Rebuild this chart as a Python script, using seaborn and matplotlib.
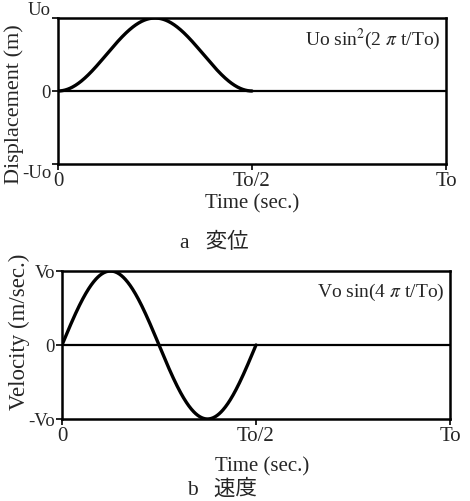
import numpy as np
import pandas as pd
import matplotlib
matplotlib.use("Agg")
import matplotlib.pyplot as plt
import seaborn as sns

# Pulse parameters (normalised): period, amplitudes
T0 = 1.0
U0 = 1.0
V0 = 1.0

x_ticks = [0.0, T0 / 2, T0]
x_ticklabels = ["0", "To/2", "To"]
disp_ticklabels = ["-Uo", "0", "Uo"]
vel_ticklabels = ["-Vo", "0", "Vo"]

# Pulse shapes over the first half period
t = np.linspace(0.0, T0 / 2, 400)
displacement = U0 * np.sin(2 * np.pi * t / T0) ** 2
velocity = V0 * np.sin(4 * np.pi * t / T0)
df = pd.DataFrame({"t": t, "u": displacement, "v": velocity})

sns.set_theme(style="white")
plt.rcParams["font.family"] = ["Liberation Serif", "Noto Sans CJK JP"]
plt.rcParams["mathtext.fontset"] = "stix"

W, H = 470, 502
fig = plt.figure(figsize=(W / 100, H / 100), dpi=100)


def box(left, top, right, bottom):
    return [left / W, 1 - bottom / H, (right - left) / W, (bottom - top) / H]


ax1 = fig.add_axes(box(58, 19, 446, 165))
ax2 = fig.add_axes(box(62, 272, 450, 420))


def style(ax, amp, yticklabels):
    ax.set_xlim(0, T0)
    ax.set_ylim(-amp, amp)
    ax.axhline(0, color="black", lw=1.6)
    for s in ax.spines.values():
        s.set_color("black")
        s.set_linewidth(1.8)
    ax.set_xticks(x_ticks)
    ax.set_xticklabels(x_ticklabels, fontsize=15)
    ax.set_yticks([-amp, 0, amp])
    ax.set_yticklabels(yticklabels, fontsize=13.5)
    ax.tick_params(axis="both", direction="out", length=4, width=1.2,
                   color="black", pad=1, bottom=True, left=True)
    ax.set_xlabel("")
    ax.set_ylabel("")


sns.lineplot(data=df, x="t", y="u", ax=ax1, color="black", lw=2.4)
style(ax1, U0, disp_ticklabels)
# amplitude labels sit just outside the frame on the displacement panel
ylabs = ax1.get_yticklabels()
ylabs[0].set_va("top")
ylabs[2].set_va("bottom")
ax1.text(0.985, 0.86, r"Uo sin$^{2}$(2 $\pi$ t/To)", transform=ax1.transAxes,
         ha="right", va="center", fontsize=14)

sns.lineplot(data=df, x="t", y="v", ax=ax2, color="black", lw=2.4)
style(ax2, V0, vel_ticklabels)
ax2.text(0.985, 0.86, r"Vo sin(4 $\pi$ t/To)", transform=ax2.transAxes,
         ha="right", va="center", fontsize=14)

# Axis titles and captions
fig.text(14 / W, 1 - 104 / H, "Displacement (m)", rotation=90,
         ha="center", va="center", fontsize=16)
fig.text(19 / W, 1 - 332 / H, "Velocity (m/sec.)", rotation=90,
         ha="center", va="center", fontsize=16.5)
fig.text(252 / W, 1 - 204 / H, "Time (sec.)", ha="center", va="center", fontsize=15)
fig.text(262 / W, 1 - 467 / H, "Time (sec.)", ha="center", va="center", fontsize=15)
fig.text(214 / W, 1 - 243 / H, "a   変位", ha="center", va="center", fontsize=15.5)
fig.text(222 / W, 1 - 490 / H, "b   速度", ha="center", va="center", fontsize=15.5)

fig.savefig("out.png", dpi=100, facecolor="white")
